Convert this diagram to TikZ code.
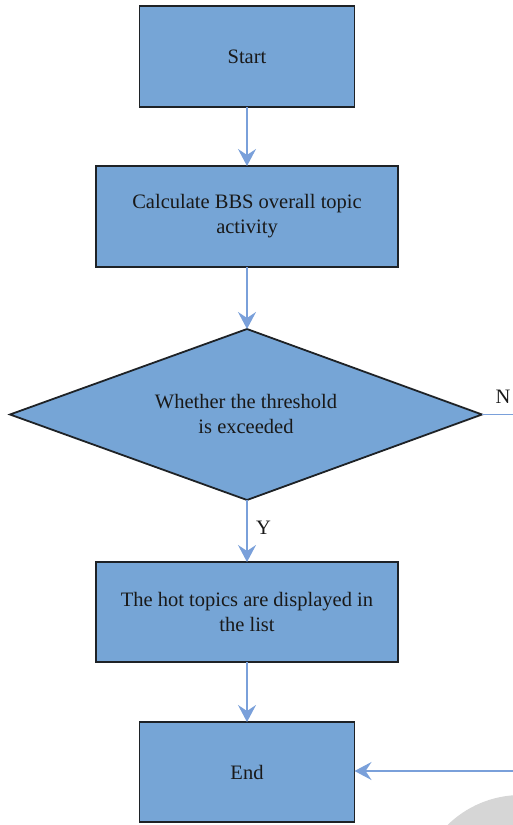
\documentclass[tikz,border=0pt]{standalone}
\usepackage{fontspec}
\setmainfont{Liberation Serif}
\usetikzlibrary{arrows.meta}
\definecolor{boxfill}{HTML}{76A5D6}
\definecolor{boxline}{HTML}{1E2226}
\definecolor{flowline}{HTML}{7AA0DA}
\definecolor{discgray}{HTML}{D6D6D6}
\tikzset{
  x=1pt, y=1pt,
  txt/.style={font=\fontsize{20.5}{25}\selectfont, text=black!90, align=center},
  procbox/.style={txt, draw=boxline, line width=1.8pt, fill=boxfill, rectangle,
    inner sep=0pt, outer sep=0pt},
  decshape/.style={draw=boxline, line width=1.8pt, fill=boxfill, line join=miter},
  flow/.style={draw=flowline, line width=1.4pt,
    -{Stealth[length=17pt, width=18pt, inset=6pt]}},
  plainflow/.style={draw=flowline, line width=1.4pt},
  lbl/.style={font=\fontsize{20.5}{25}\selectfont, text=black!90}
}
\begin{document}
\begin{tikzpicture}
\useasboundingbox (0,0) rectangle (513,-825);
% partly visible disc in the lower right corner
\begin{scope}
  \clip (0,0) rectangle (513,-825);
  \fill[discgray] (521,-900) circle[radius=105];
\end{scope}

\node[procbox, minimum width=215pt, minimum height=101pt] (start) at (247,-56.5) {Start};
\node[procbox, minimum width=302pt, minimum height=101pt] (calc) at (247,-216.5)
  {Calculate BBS overall topic\\activity};

% decision diamond: corners as named coordinates
\coordinate (decT) at (247,-329);
\coordinate (decB) at (247,-500);
\coordinate (decL) at (10,-414.5);
\coordinate (decR) at (482,-414.5);
\path[decshape] (decT) -- (decR) -- (decB) -- (decL) -- cycle;
\node[txt] (dec) at (246,-413.5) {Whether the threshold\\is exceeded};

\node[procbox, minimum width=302pt, minimum height=100pt] (hot) at (247,-612)
  {The hot topics are displayed in\\the list};
\node[procbox, minimum width=215pt, minimum height=100pt] (end) at (247,-772) {End};

\coordinate (nout) at (513,-414.5);
\coordinate (nback) at (513,-771);

\draw[flow] (start.south) -- (calc.north);
\draw[flow] (calc.south) -- (decT);
\draw[flow] (decB) -- node[lbl, right=5pt, pos=0.45] (ylab) {Y} (hot.north);
\draw[flow] (hot.south) -- (end.north);
\draw[plainflow] (decR) -- (nout);
\node[lbl] (nlab) at (503,-397) {N};
\draw[flow] (nback) -- (end.east |- nback);
\end{tikzpicture}
\end{document}
